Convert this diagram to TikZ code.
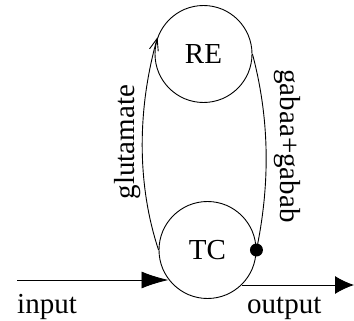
\documentclass[tikz,border=0pt]{standalone}
\usepackage{fontspec}
\setmainfont{Liberation Serif}
\usetikzlibrary{arrows.meta}
\begin{document}
\begin{tikzpicture}[x=1pt,y=-1pt,
  cell/.style={draw,circle,line width=0.9pt,minimum size=97pt,inner sep=0pt,font=\fontsize{29}{32}\selectfont},
  lbl/.style={font=\fontsize{29}{32}\selectfont,inner sep=0pt},
  conn/.style={line width=0.9pt},
  bigtip/.style={-{Latex[length=27pt,width=17pt]}}]
\useasboundingbox (0,0) rectangle (354,321);
\node[cell] (RE) at (203.5,54) {RE};
\node[cell] (TC) at (207.5,250) {TC};
\coordinate (in) at (17,280);
\coordinate (out) at (354,285);
\coordinate (inend) at (168.5,280);
\coordinate (outstart) at (241.8,285);
\draw[conn,bigtip] (in) -- (inend);
\draw[conn,-{Latex[length=19pt,width=18pt]}] (outstart) -- (out);
\draw[conn,-{Straight Barb[length=12pt,width=9pt,line width=0.9pt]}] (TC.west) .. controls (137,185) and (137,110) .. (RE.160);
\draw[conn] (RE.east) .. controls (270,120) and (270,185) .. (TC.east);
\node[circle,fill=black,minimum size=13pt,inner sep=0pt] (dot) at (TC.east) {};
\node[lbl,anchor=base west] (inlbl) at (17,313) {input};
\node[lbl,anchor=base west] (outlbl) at (247,313) {output};
\node[lbl,rotate=90] (glu) at (127.5,142) {glutamate};
\node[lbl,rotate=-90] (gab) at (287.5,146) {gabaa+gabab};
\end{tikzpicture}
\end{document}
